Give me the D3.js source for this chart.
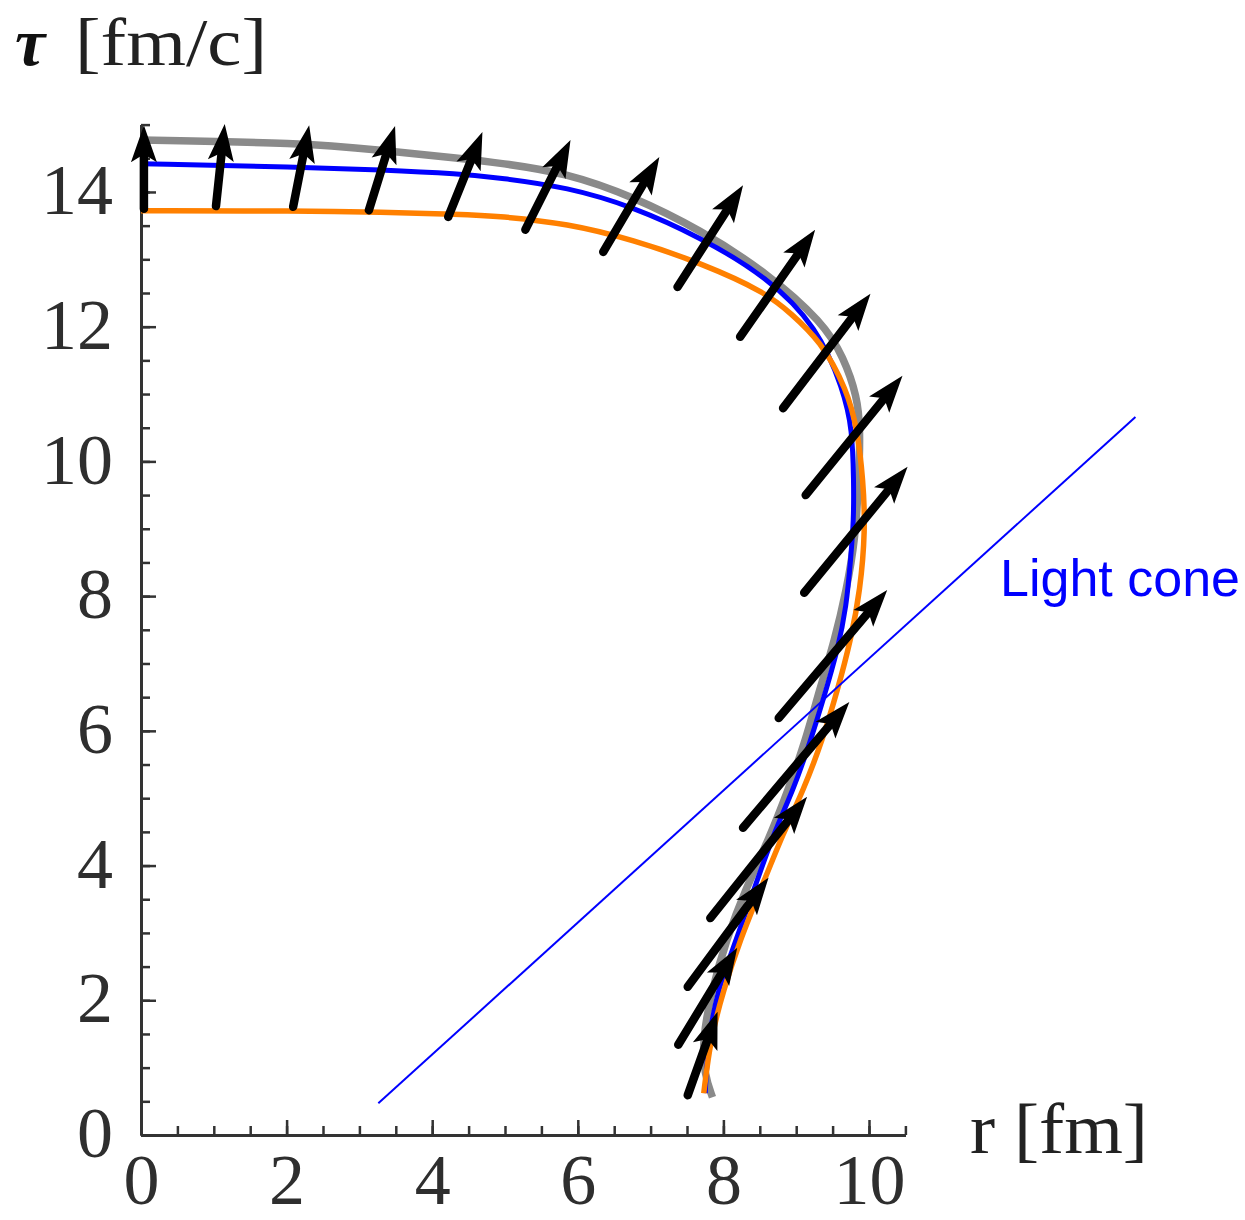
<!DOCTYPE html>
<html>
<head>
<meta charset="utf-8">
<script src="https://cdn.jsdelivr.net/npm/d3@7"></script>
<style>
  body { margin: 0; background: #fff; }
  svg { display: block; }
  .axis .domain { stroke: #333; stroke-width: 3; }
  .axis line { stroke: #333; stroke-width: 2.5; }
  .axis text { font-family: "Liberation Serif", serif; font-size: 72px; fill: #2e2e2e; }
</style>
</head>
<body>
<div id="chart"></div>
<script>
// curves, [r (fm), tau (fm/c)]
var grayCurve = [[0,14.77],[2.19,14.73],[3.29,14.62],[4.38,14.50],[4.93,14.43],[5.86,14.28],
  [6.76,13.93],[7.68,13.44],[8.60,12.80],[9.37,12.06],[9.65,11.55],[9.84,10.96],[9.88,10.47],
  [9.86,9.72],[9.81,8.83],[9.69,8.09],[9.53,7.35],[9.32,6.61],[9.13,5.86],[8.89,5.12],
  [8.62,4.38],[8.30,3.64],[8.04,2.90],[7.84,2.15],[7.71,1.41],[7.74,0.89],[7.85,0.56]];

var blueCurve = [[0,14.42],[2.19,14.37],[3.29,14.33],[4.38,14.27],[4.93,14.21],[5.86,14.07],
  [6.76,13.78],[7.68,13.33],[8.60,12.74],[9.29,12.00],[9.65,11.06],[9.77,10.47],[9.79,9.72],
  [9.79,9.13],[9.75,8.58],[9.69,7.84],[9.57,7.20],[9.37,6.46],[9.20,5.86],[8.96,5.12],
  [8.69,4.48],[8.37,3.49],[8.14,2.79],[7.92,2.15],[7.79,1.41],[7.75,0.62]];

var orangeCurve = [[0,13.72],[2.19,13.72],[3.29,13.70],[4.38,13.67],[4.93,13.64],[5.86,13.53],
  [6.76,13.29],[7.68,12.95],[8.60,12.50],[8.92,12.20],[9.33,11.80],[9.70,11.06],[9.84,10.47],
  [9.92,9.72],[9.95,8.98],[9.88,8.09],[9.75,7.35],[9.57,6.61],[9.36,5.86],[9.10,5.12],
  [8.82,4.48],[8.51,3.64],[8.23,2.90],[8.00,2.15],[7.82,1.41],[7.73,0.62]];

// flow arrows: tail r, tail tau, head r, head tau
var arrows = [[0.04,13.75,0.04,14.99],[1.03,13.79,1.15,15.01],[2.09,13.78,2.31,14.99],
  [3.13,13.73,3.49,14.98],[4.22,13.63,4.69,14.89],[5.28,13.44,5.90,14.77],
  [6.35,13.11,7.12,14.52],[7.37,12.59,8.27,14.10],[8.23,11.85,9.26,13.44],
  [8.82,10.79,10.02,12.49],[9.13,9.50,10.46,11.27],[9.11,8.05,10.53,9.92],
  [8.76,6.19,10.25,8.09],[8.27,4.56,9.73,6.43],[7.82,3.22,9.15,5.02],
  [7.51,2.20,8.62,3.82],[7.38,1.34,8.19,2.78],[7.51,0.59,7.92,1.83]];

var lightCone = [[3.26,0.47],[13.66,10.66]];

var xMajor = [0, 2, 4, 6, 8, 10];
var xMinor = d3.range(0, 10.51, 0.5);
var yMajor = [0, 2, 4, 6, 8, 10, 12, 14];
var yMinor = d3.range(0, 15.01, 0.5);

var svg = d3.select("#chart").append("svg")
  .attr("width", 1245)
  .attr("height", 1220);

var x = d3.scaleLinear().domain([0, 10.5]).range([141, 905.4]);
var y = d3.scaleLinear().domain([0, 15]).range([1135, 124.6]);

// axes, ticks pointing inward
svg.append("g").attr("class", "axis")
  .attr("transform", "translate(0,1135)")
  .call(d3.axisBottom(x).tickValues(xMinor).tickSize(-9).tickSizeOuter(0).tickFormat(""));
var xAxis = svg.append("g").attr("class", "axis")
  .attr("transform", "translate(0,1135)")
  .call(d3.axisBottom(x).tickValues(xMajor).tickSize(-15).tickSizeOuter(0).tickPadding(20));
xAxis.selectAll("text").attr("dy", "0.68em");

svg.append("g").attr("class", "axis")
  .attr("transform", "translate(141,0)")
  .call(d3.axisLeft(y).tickValues(yMinor).tickSize(-9).tickSizeOuter(0).tickFormat(""));
var yAxis = svg.append("g").attr("class", "axis")
  .attr("transform", "translate(141,0)")
  .call(d3.axisLeft(y).tickValues(yMajor).tickSize(-15).tickSizeOuter(0).tickPadding(28));
yAxis.selectAll("text").attr("dy", "0.3em");

// curves
var line = d3.line()
  .x(d => x(d[0]))
  .y(d => y(d[1]))
  .curve(d3.curveBasis);

svg.append("path").datum(grayCurve)
  .attr("d", line).attr("fill", "none")
  .attr("stroke", "#8a8a8a").attr("stroke-width", 7.5);
svg.append("path").datum(blueCurve)
  .attr("d", line).attr("fill", "none")
  .attr("stroke", "#0000ff").attr("stroke-width", 5);
svg.append("path").datum(orangeCurve)
  .attr("d", line).attr("fill", "none")
  .attr("stroke", "#ff8000").attr("stroke-width", 5.5);

// light cone
svg.append("path").datum(lightCone)
  .attr("d", d3.line().x(d => x(d[0])).y(d => y(d[1])))
  .attr("stroke", "#0000ff").attr("stroke-width", 2);

// arrows
var headLen = 37, headW = 13, notch = 8;
function geom(a) {
  var x0 = x(a[0]), y0 = y(a[1]), x1 = x(a[2]), y1 = y(a[3]);
  var len = Math.hypot(x1 - x0, y1 - y0);
  var ux = (x1 - x0) / len, uy = (y1 - y0) / len;
  return { x0: x0, y0: y0, x1: x1, y1: y1, ux: ux, uy: uy, px: -uy, py: ux };
}

var arrowG = svg.append("g");
arrowG.selectAll("line")
  .data(arrows)
  .enter()
  .append("line")
  .attr("x1", d => geom(d).x0)
  .attr("y1", d => geom(d).y0)
  .attr("x2", d => { var g = geom(d); return g.x1 - g.ux * (headLen - notch - 2); })
  .attr("y2", d => { var g = geom(d); return g.y1 - g.uy * (headLen - notch - 2); })
  .attr("stroke", "#000")
  .attr("stroke-width", 8.5)
  .attr("stroke-linecap", "round");

arrowG.selectAll("path")
  .data(arrows)
  .enter()
  .append("path")
  .attr("d", function(d) {
    var g = geom(d);
    var bx = g.x1 - g.ux * headLen, by = g.y1 - g.uy * headLen;
    var nx = g.x1 - g.ux * (headLen - notch), ny = g.y1 - g.uy * (headLen - notch);
    return "M" + g.x1 + "," + g.y1 +
      "L" + (bx + g.px * headW) + "," + (by + g.py * headW) +
      "L" + nx + "," + ny +
      "L" + (bx - g.px * headW) + "," + (by - g.py * headW) + "Z";
  })
  .attr("fill", "#000");

// labels
svg.append("text")
  .attr("x", 15).attr("y", 65)
  .attr("font-family", "Liberation Serif, serif")
  .attr("font-size", 68)
  .attr("font-weight", "bold")
  .attr("font-style", "italic")
  .attr("fill", "#111")
  .text("τ");

svg.append("text")
  .attr("x", 75).attr("y", 65)
  .attr("font-family", "Liberation Serif, serif")
  .attr("font-size", 68)
  .attr("fill", "#222")
  .attr("textLength", 192)
  .attr("lengthAdjust", "spacingAndGlyphs")
  .text("[fm/c]");

svg.append("text")
  .attr("x", 970).attr("y", 1153)
  .attr("font-family", "Liberation Serif, serif")
  .attr("font-size", 72)
  .attr("fill", "#222")
  .attr("textLength", 178)
  .attr("lengthAdjust", "spacingAndGlyphs")
  .text("r [fm]");

svg.append("text")
  .attr("x", 1000).attr("y", 596)
  .attr("font-family", "Liberation Sans, Arial, sans-serif")
  .attr("font-size", 52)
  .attr("fill", "#0000ff")
  .text("Light cone");
</script>
</body>
</html>
